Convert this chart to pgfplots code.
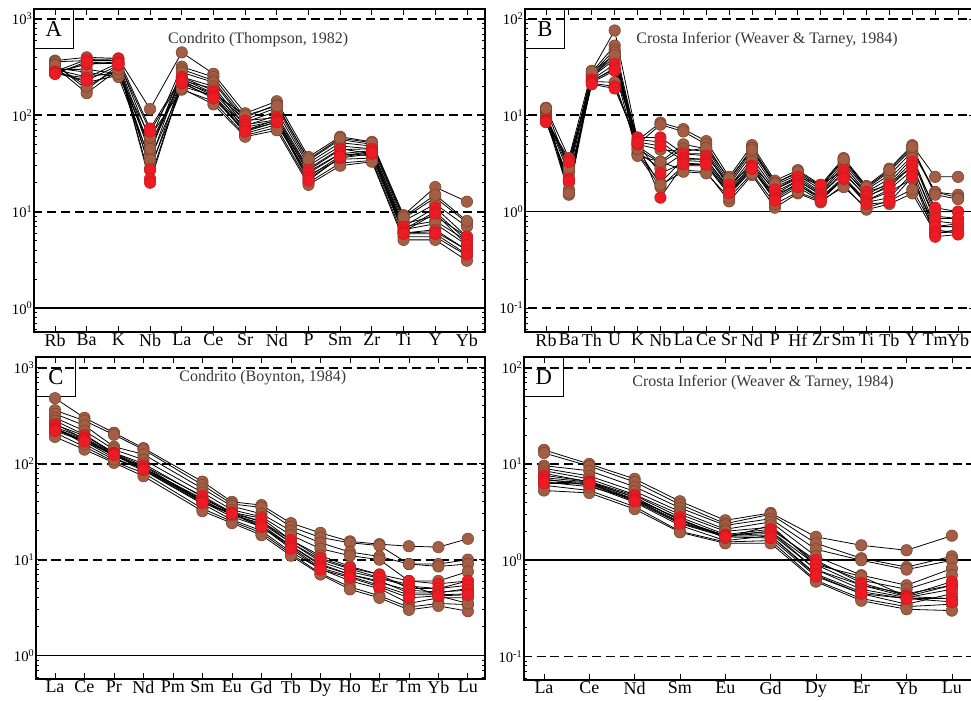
\documentclass[border=0pt]{standalone}
\usepackage{pgfplots}
\usepackage{pgfplotstable}
\pgfplotsset{compat=1.18}
\usepackage{fontspec}
\setmainfont{Liberation Serif}

\definecolor{brfill}{RGB}{163,94,69}
\definecolor{brdraw}{RGB}{118,66,46}
\definecolor{rdfill}{RGB}{236,28,36}
\definecolor{rddraw}{RGB}{205,22,30}
\definecolor{ttl}{RGB}{55,55,55}

% ---------- Panel A: Condrito (Thompson, 1982) ----------
\pgfplotstableread{
name Rb Ba K Nb La Ce Sr Nd P Sm Zr Ti Y Yb
x 0 1 2 3 4 5 6 7 8 9 10 11 12 13
b1 370 400 390 116 450 270 105 140 37 60 53 9.2 18 12.7
b2 360 370 370 55 320 250 95 130 34 56 50 8.5 14 7.7
b3 340 185 330 40 300 230 90 120 32 52 48 8 12 7
b4 320 170 300 33 280 220 85 110 30 48 45 7.5 9 5.5
b5 300 250 280 45 250 200 78 100 28 45 40 7 8 5
b6 290 220 260 50 230 190 70 90 26 40 38 6.5 7.5 4.5
b7 310 280 250 35 200 160 65 80 24 35 36 6 6.5 4
b8 300 300 270 60 185 140 62 75 20 32 34 5.5 5.5 3.5
b9 330 200 300 28 190 130 60 70 19 30 33 5.1 5.1 3.1
b10 280 340 350 45 220 170 100 125 35 58 52 8.8 15 8
r1 285 380 385 73 250 180 88 95 27 44 45 7 11 5.5
r2 280 340 360 68 240 170 80 90 25 40 43 6.5 10 5
r3 270 245 350 27 230 160 75 88 23 38 42 6.2 9.6 4.5
r4 275 230 330 22 215 155 70 85 22 36 40 6 6.2 4
r5 270 360 340 20 220 150 68 85 21 37 41 5.9 5.9 3.6
}\rawA
\pgfplotstabletranspose[colnames from=name]\tabA\rawA

% ---------- Panel B: Crosta Inferior (Weaver & Tarney, 1984) ----------
\pgfplotstableread{
name Rb Ba Th U K Nb La Ce Sr Nd P Hf Zr Sm Ti Tb Y Tm Yb
x 0 1 2 3 4 5 6 7 8 9 10 11 12 13 14 15 16 17 18
b1 12 3.6 29 76 5.5 8.4 7.2 5.4 2.3 4.9 2.1 2.7 1.9 3.6 1.85 2.8 4.9 2.3 2.3
b2 11.5 1.5 28 53 5 8 6.8 5 2.1 4.6 2.0 2.5 1.8 3.4 1.75 2.6 4.5 1.6 1.5
b3 11 1.6 27 48 4.8 3.3 5 4.5 2.0 4.3 1.9 2.4 1.7 3.2 1.7 2.4 4.2 1.6 1.4
b4 10.5 1.7 26 44 4.5 3.2 4.5 4.2 1.9 4 1.8 2.3 1.6 3.0 1.6 2.2 3.8 1.0 1.0
b5 10 2.7 26 40 4.2 2.8 4 4 1.8 3.6 1.7 2.2 1.55 2.8 1.5 2.0 3.6 0.9 0.85
b6 9.8 3.0 25 38 4 2.0 3.5 3.5 1.75 3.3 1.6 2.1 1.5 2.6 1.4 1.9 3.0 0.8 0.75
b7 9.5 2.5 24 45 3.9 1.8 3 3.0 1.5 2.7 1.5 1.9 1.4 2.2 1.3 1.6 2.2 0.7 0.7
b8 9.3 1.55 23 30 3.8 3.3 2.7 2.6 1.28 2.4 1.1 1.55 1.25 1.9 1.05 1.2 1.55 0.6 0.65
b9 9.0 2.0 22.5 22 4.5 1.9 2.6 2.5 1.4 2.5 1.2 1.6 1.3 1.8 1.1 1.3 1.7 0.65 0.6
b10 11.8 2.8 28.5 42 5.0 4.4 4.2 4.6 2.2 4.4 1.95 2.6 1.85 3.5 1.8 2.7 4.7 1.5 1.35
r1 9.0 3.5 23.5 34 5.9 5.9 4.0 3.8 1.9 3.0 1.7 2.3 1.9 2.7 1.6 1.9 3.3 1.1 1.0
r2 8.8 3.3 22.5 31 5.6 5.3 3.6 3.5 1.7 3.0 1.5 2.1 1.5 2.5 1.45 1.8 3.0 0.85 0.85
r3 8.7 2.2 22 29 5.3 4.8 3.4 3.3 1.65 2.9 1.4 2.0 1.4 2.3 1.3 1.7 2.7 0.7 0.75
r4 8.6 2.1 21.5 20 5.0 2.5 3.2 3.1 1.6 2.8 1.35 1.9 1.35 2.2 1.25 1.4 2.5 0.6 0.62
r5 8.5 2.1 21 19 5.2 1.4 3.1 3.1 1.55 2.8 1.3 1.8 1.3 2.2 1.2 1.25 2.3 0.55 0.58
}\rawB
\pgfplotstabletranspose[colnames from=name]\tabB\rawB

% ---------- Panel C: Condrito (Boynton, 1984) ----------
\pgfplotstableread{
name La Ce Pr Nd Sm Eu Gd Tb Dy Ho Er Tm Yb Lu
x 0 1 2 3 5 6 7 8 9 10 11 12 13 14
b1 480 300 210 145 65 40 37 24 19 15.5 14.5 13.8 13.5 16.5
b2 360 280 200 140 60 38 35 22 17 15 14 9 9 10
b3 330 250 150 125 55 36 30 20 15 12 10.8 9 8.5 9
b4 300 220 140 110 50 33 28 18 13 11 10 6 6 7.5
b5 280 200 130 100 45 30 25 16 11 8.5 7 5 5 6
b6 260 180 120 95 40 28 22 14 9 7 6 4.5 4.5 5
b7 230 170 115 85 38 26 20 12 8 6 5 3.5 4 4
b8 210 150 105 80 34 25 19 11.5 7.2 5.2 4.2 3.2 3.5 3.4
b9 190 140 102 74 32 24 18 11 7 4.9 4 3 3.3 2.9
b10 240 160 110 90 42 29 24 15 10 8 6.5 5.5 4.2 3.5
r1 255 195 129 95 46 31 27 16 10.4 8.2 7 6 5.6 6
r2 240 185 128 90 43 31 25 15 9.5 7.5 6.4 5.3 5 5.4
r3 230 180 125 88 41 30 23 14 8.7 7 5.8 4.8 4.6 4.8
r4 225 175 125 88 40 30 22 13.5 8.2 6.7 5.4 4.3 4.3 4.4
r5 220 170 123 86 39 30 22 13 7.9 6.5 5.2 4 4.2 4.3
}\rawC
\pgfplotstabletranspose[colnames from=name]\tabC\rawC

% ---------- Panel D: Crosta Inferior (Weaver & Tarney, 1984) ----------
\pgfplotstableread{
name La Ce Nd Sm Eu Gd Dy Er Yb Lu
x 0 1 2 3 4 5 6 7 8 9
b1 14 10 7 4.1 2.6 3.1 1.75 1.43 1.27 1.8
b2 13 9.5 6.5 3.8 2.4 3.0 1.5 1.05 0.85 1.1
b3 9.6 8.5 5.8 3.5 2.3 2.7 1.3 1.0 0.8 1.0
b4 9 7.5 5.2 3.2 2.1 2.5 1.1 0.7 0.55 0.82
b5 8.5 7 4.8 3.0 2.0 2.2 0.95 0.62 0.5 0.7
b6 8 6.5 4.5 2.6 1.8 2.0 0.8 0.55 0.45 0.55
b7 7 6 4.0 2.3 1.6 1.8 0.7 0.45 0.35 0.45
b8 6 5.3 3.6 2.0 1.55 1.6 0.62 0.4 0.33 0.35
b9 5.3 5 3.4 1.95 1.5 1.5 0.6 0.38 0.31 0.3
b10 6.5 5.8 4.3 2.7 1.7 2.3 0.9 0.68 0.42 0.4
r1 7.6 6.6 4.7 2.8 1.85 2.1 1.0 0.58 0.43 0.6
r2 7.2 6.5 4.5 2.6 1.8 2.0 0.9 0.55 0.42 0.55
r3 6.8 6.4 4.3 2.5 1.8 1.9 0.8 0.5 0.41 0.5
r4 6.5 6.3 4.2 2.45 1.78 1.8 0.72 0.47 0.4 0.4
r5 6.3 6.2 4.1 2.4 1.75 1.7 0.68 0.45 0.40 0.37
}\rawD
\pgfplotstabletranspose[colnames from=name]\tabD\rawD

\pgfplotsset{
  every axis/.append style={
    scale only axis,
    anchor=south west,
    axis line style={line width=1pt},
    major tick length=4.5pt, minor tick length=2.6pt,
    xticklabel style={font=\fontsize{13.5}{15}\selectfont, inner sep=1pt},
    yticklabel style={font=\fontsize{11}{13}\selectfont, inner sep=1pt},
  },
  every tick/.append style={black, line width=0.6pt},
  every minor tick/.append style={black, line width=0.6pt},
}
\tikzset{
  sline/.style={black, line width=0.6pt},
  bmk/.style={fill=brfill, draw=brdraw, line width=0.4pt},
  rmk/.style={fill=rdfill, draw=rddraw, line width=0.4pt},
  dline/.style={black, line width=1.4pt, dash pattern=on 6.8pt off 3.6pt},
  sref/.style={black, line width=1.2pt},
}

\newcommand\drawsamples[1]{%
  \pgfplotsinvokeforeach{b1,b2,b3,b4,b5,b6,b7,b8,b9,b10,r1,r2,r3,r4,r5}{\addplot[sline, no marks, forget plot] table[x=x,y=##1]{#1};}
  \pgfplotsinvokeforeach{b1,b2,b3,b4,b5,b6,b7,b8,b9,b10}{\addplot[only marks, mark=*, mark size=4.3pt, mark options={bmk}, forget plot] table[x=x,y=##1]{#1};}
  \pgfplotsinvokeforeach{r1,r2,r3,r4,r5}{\addplot[only marks, mark=*, mark size=4.3pt, mark options={rmk}, forget plot] table[x=x,y=##1]{#1};}
}
\newcommand\panellabel[1]{%
  \node[draw, line width=0.6pt, anchor=north west, minimum width=29.25pt, minimum height=29.25pt,
        inner sep=0pt, font=\fontsize{17}{19}\selectfont] at (rel axis cs:0,1) {#1};}

\begin{document}
\begin{tikzpicture}
\useasboundingbox (0,0) rectangle (728.25pt,525pt);

% Panel A
\begin{axis}[ymode=log, at={(25.5pt,276pt)}, width=338.25pt, height=242.25pt,
  ymin=0.564, ymax=1270, ytick={1,10,100,1000},
  yticklabels={10\textsuperscript{0},10\textsuperscript{1},10\textsuperscript{2},10\textsuperscript{3}},
  minor ytick={0.6,0.7,0.8,0.9,2,3,4,5,6,7,8,9,20,30,40,50,60,70,80,90,200,300,400,500,600,700,800,900},
  xmin=-0.663, xmax=13.57, xtick={0,...,13},
  xticklabels={Rb,Ba,K,Nb,La,Ce,Sr,Nd,P,Sm,Zr,Ti,Y,Yb}]
  \addplot[dline, forget plot] coordinates {(-2,1000) (30,1000)};
  \addplot[dline, forget plot] coordinates {(-2,100) (30,100)};
  \addplot[dline, forget plot] coordinates {(-2,10) (30,10)};
  \addplot[sref, forget plot] coordinates {(-2,1) (30,1)};
  \drawsamples{\tabA}
  \panellabel{A}
  \node[font=\fontsize{12}{14}\selectfont, text=ttl] at (rel axis cs:0.497,0.904) {Condrito (Thompson, 1982)};
\end{axis}

% Panel B
\begin{axis}[ymode=log, at={(393.75pt,276pt)}, width=337.5pt, height=242.25pt,
  ymin=0.0564, ymax=127, ytick={0.1,1,10,100},
  yticklabels={10\textsuperscript{-1},10\textsuperscript{0},10\textsuperscript{1},10\textsuperscript{2}},
  minor ytick={0.06,0.07,0.08,0.09,0.2,0.3,0.4,0.5,0.6,0.7,0.8,0.9,2,3,4,5,6,7,8,9,20,30,40,50,60,70,80,90},
  xmin=-0.917, xmax=18.74, xtick={0,...,18},
  xticklabels={Rb,Ba,Th,U,K,Nb,La,Ce,Sr,Nd,P,Hf,Zr,Sm,Ti,Tb,Y,Tm,Yb}]
  \addplot[dline, forget plot] coordinates {(-2,100) (30,100)};
  \addplot[dline, forget plot] coordinates {(-2,10) (30,10)};
  \addplot[dline, forget plot] coordinates {(-2,0.1) (30,0.1)};
  \addplot[sref, forget plot] coordinates {(-2,1) (30,1)};
  \drawsamples{\tabB}
  \panellabel{B}
  \node[font=\fontsize{12}{14}\selectfont, text=ttl] at (rel axis cs:0.538,0.904) {Crosta Inferior (Weaver \& Tarney, 1984)};
\end{axis}

% Panel C
\begin{axis}[ymode=log, at={(27pt,15.75pt)}, width=336.75pt, height=241.5pt,
  ymin=0.571, ymax=1291, ytick={1,10,100,1000},
  yticklabels={10\textsuperscript{0},10\textsuperscript{1},10\textsuperscript{2},10\textsuperscript{3}},
  minor ytick={0.6,0.7,0.8,0.9,2,3,4,5,6,7,8,9,20,30,40,50,60,70,80,90,200,300,400,500,600,700,800,900},
  xmin=-0.644, xmax=14.58, xtick={0,...,14},
  xticklabels={La,Ce,Pr,Nd,Pm,Sm,Eu,Gd,Tb,Dy,Ho,Er,Tm,Yb,Lu}]
  \addplot[dline, forget plot] coordinates {(-2,1000) (30,1000)};
  \addplot[dline, forget plot] coordinates {(-2,100) (30,100)};
  \addplot[dline, forget plot] coordinates {(-2,10) (30,10)};
  \addplot[sref, forget plot] coordinates {(-2,1) (30,1)};
  \drawsamples{\tabC}
  \panellabel{C}
  \node[font=\fontsize{12}{14}\selectfont, text=ttl] at (rel axis cs:0.505,0.935) {Condrito (Boynton, 1984)};
\end{axis}

% Panel D
\begin{axis}[ymode=log, at={(393pt,15pt)}, width=338.25pt, height=242.25pt,
  ymin=0.0571, ymax=129, ytick={0.1,1,10,100},
  yticklabels={10\textsuperscript{-1},10\textsuperscript{0},10\textsuperscript{1},10\textsuperscript{2}},
  minor ytick={0.06,0.07,0.08,0.09,0.2,0.3,0.4,0.5,0.6,0.7,0.8,0.9,2,3,4,5,6,7,8,9,20,30,40,50,60,70,80,90},
  xmin=-0.441, xmax=9.51, xtick={0,...,9},
  xticklabels={La,Ce,Nd,Sm,Eu,Gd,Dy,Er,Yb,Lu}]
  \addplot[dline, forget plot] coordinates {(-2,100) (30,100)};
  \addplot[dline, forget plot] coordinates {(-2,10) (30,10)};
  \addplot[dline, forget plot] coordinates {(-2,0.1) (30,0.1)};
  \addplot[sref, forget plot] coordinates {(-2,1) (30,1)};
  \drawsamples{\tabD}
  \panellabel{D}
  \node[font=\fontsize{12}{14}\selectfont, text=ttl] at (rel axis cs:0.53,0.922) {Crosta Inferior (Weaver \& Tarney, 1984)};
\end{axis}
\end{tikzpicture}
\end{document}
